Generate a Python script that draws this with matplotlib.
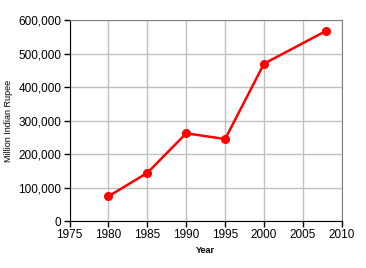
import matplotlib
matplotlib.use('Agg')
from matplotlib import pyplot as plt
from matplotlib.ticker import FuncFormatter, MultipleLocator

years = [1980, 1985, 1990, 1995, 2000, 2008]
rupees = [74000, 144000, 262000, 245000, 470000, 568000]

plt.rcParams['font.family'] = ['Liberation Sans', 'DejaVu Sans']

fig = plt.figure(figsize=(3.66, 2.68), dpi=100, facecolor='white')
ax = fig.add_axes([0.19, 0.175, 0.744, 0.75])

ax.plot(years, rupees, color='#ff0000', linewidth=1.8, marker='o',
        markersize=5.5, zorder=3)

ax.set_xlim(1975, 2010)
ax.set_ylim(0, 600000)
ax.xaxis.set_major_locator(MultipleLocator(5))
ax.yaxis.set_major_locator(MultipleLocator(100000))
ax.yaxis.set_major_formatter(FuncFormatter(lambda v, p: f'{int(v):,}'))

ax.grid(True, color='#c0c0c0', linewidth=1.0)
ax.set_axisbelow(True)

for s in ['top', 'right']:
    ax.spines[s].set_color('#808080')
for s in ['left', 'bottom']:
    ax.spines[s].set_color('black')
ax.tick_params(direction='out', length=4, width=1, labelsize=8.5, pad=2)

ax.set_xlabel('Year', fontsize=6.5, fontweight='bold', labelpad=3)
ax.set_ylabel('Million Indian Rupee', fontsize=6.5, labelpad=4)

fig.savefig('out.png', dpi=100)
